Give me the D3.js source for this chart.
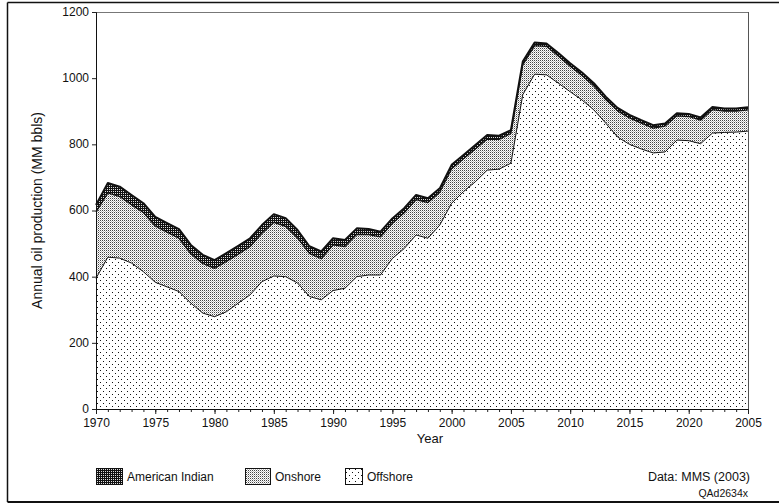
<!DOCTYPE html>
<html>
<head>
<meta charset="utf-8">
<script src="https://cdn.jsdelivr.net/npm/d3@7"></script>
<style>
  html, body { margin: 0; padding: 0; background: #fff; }
  svg { display: block; }
  text { font-family: "Liberation Sans", Arial, sans-serif; fill: #111; }
</style>
</head>
<body>
<svg id="chart" width="779" height="504"></svg>
<script>
// ---- data (MM bbls) ----
const years = [1970,1971,1972,1973,1974,1975,1976,1977,1978,1979,
  1980,1981,1982,1983,1984,1985,1986,1987,1988,1989,
  1990,1991,1992,1993,1994,1995,1996,1997,1998,1999,
  2000,2001,2002,2003,2004,2005,2006,2007,2008,2009,
  2010,2011,2012,2013,2014,2015,2016,2017,2018,2019,
  2020,2021,2022,2023,2024,2025];
const offshore = [395,459,456,441,415,383,369,355,320,290,
  279,294,320,345,385,402,400,381,340,330,
  358,365,400,405,405,455,485,526,516,556,
  622,657,687,722,725,743,950,1012,1010,985,
  959,934,904,864,822,800,786,774,777,813,
  811,802,834,836,837,840];
const onshore = [200,194,186,176,179,170,165,161,149,150,
  146,152,148,146,146,162,152,136,130,124,
  138,126,128,122,115,106,108,107,108,99,
  104,99,99,94,90,90,90,86,86,82,
  77,74,72,71,79,80,78,75,78,73,
  73,71,71,64,63,64];
const americanIndian = [22,30,30,30,28,28,28,28,27,26,
  25,25,25,25,25,25,25,24,22,22,
  20,20,18,17,16,15,14,14,13,12,
  12,12,12,12,11,10,10,10,9,9,
  9,9,9,9,9,9,9,9,8,8,
  8,8,8,8,8,8];
const seriesKeys = ["offshore", "onshore", "americanIndian"];
const legendLabels = ["American Indian", "Onshore", "Offshore"];
const xTickYears = [1970,1975,1980,1985,1990,1995,2000,2005,2010,2015,2020,2025];
const xTickLabels = ["1970","1975","1980","1985","1990","1995","2000","2005","2010","2015","2020","2005"];
const yTicks = [0,200,400,600,800,1000,1200];

// ---- build table ----
const table = years.map((y, i) => ({
  year: y, offshore: offshore[i], onshore: onshore[i], americanIndian: americanIndian[i]
}));

const svg = d3.select("#chart");
const margin = {left: 96, right: 31, top: 12, bottom: 95};
const W = 779, H = 504;
const x = d3.scaleLinear().domain([1970, 2025]).range([margin.left, W - margin.right]);
const y = d3.scaleLinear().domain([0, 1200]).range([H - margin.bottom, margin.top]);

// ---- patterns ----
const defs = svg.append("defs");
const pOff = defs.append("pattern").attr("id", "pOff").attr("patternUnits", "userSpaceOnUse")
  .attr("width", 6).attr("height", 6);
pOff.append("rect").attr("width", 6).attr("height", 6).attr("fill", "#fff");
pOff.append("rect").attr("x", 1).attr("y", 1).attr("width", 1).attr("height", 1).attr("fill", "#111");
pOff.append("rect").attr("x", 4).attr("y", 4).attr("width", 1).attr("height", 1).attr("fill", "#111");

const pOn = defs.append("pattern").attr("id", "pOn").attr("patternUnits", "userSpaceOnUse")
  .attr("width", 2).attr("height", 2);
pOn.append("rect").attr("width", 2).attr("height", 2).attr("fill", "#fff");
pOn.append("rect").attr("x", 0).attr("y", 0).attr("width", 1).attr("height", 1).attr("fill", "#444");
pOn.append("rect").attr("x", 1).attr("y", 1).attr("width", 1).attr("height", 1).attr("fill", "#bbb");

const pAI = defs.append("pattern").attr("id", "pAI").attr("patternUnits", "userSpaceOnUse")
  .attr("width", 2).attr("height", 2);
pAI.append("rect").attr("width", 2).attr("height", 2).attr("fill", "#111");
pAI.append("rect").attr("x", 1).attr("y", 1).attr("width", 1).attr("height", 1).attr("fill", "#ddd");

const fills = {offshore: "url(#pOff)", onshore: "url(#pOn)", americanIndian: "url(#pAI)"};
const edgeW = {offshore: 1, onshore: 1.2, americanIndian: 2};

// ---- outer frame ----
const frame = svg.append("g").attr("stroke", "#111").attr("fill", "none");
frame.append("line").attr("x1", 7.5).attr("y1", 2.5).attr("x2", 779).attr("y2", 2.5).attr("stroke-width", 1.5);
frame.append("line").attr("x1", 7.5).attr("y1", 2.5).attr("x2", 7.5).attr("y2", 502).attr("stroke-width", 1.5);
frame.append("line").attr("x1", 7.5).attr("y1", 502).attr("x2", 779).attr("y2", 502).attr("stroke-width", 2);

// ---- stacked areas ----
const stack = d3.stack().keys(seriesKeys);
const layers = stack(table);
const area = d3.area().x(d => x(d.data.year)).y0(d => y(d[0])).y1(d => y(d[1]));
const topLine = d3.line().x(d => x(d.data.year)).y(d => y(d[1]));

svg.append("g").selectAll("path.area").data(layers).join("path")
  .attr("class", "area")
  .attr("d", area)
  .attr("fill", d => fills[d.key])
  .attr("stroke", "none");

svg.append("g").selectAll("path.edge").data(layers).join("path")
  .attr("class", "edge")
  .attr("d", topLine)
  .attr("fill", "none")
  .attr("stroke", "#111")
  .attr("stroke-width", d => edgeW[d.key])
  .attr("stroke-linejoin", "round");

// ---- plot frame (top and right) ----
svg.append("line").attr("x1", x(1970)).attr("x2", x(2025)).attr("y1", y(1200) + 0.5).attr("y2", y(1200) + 0.5)
  .attr("stroke", "#777").attr("stroke-width", 1);
svg.append("line").attr("x1", x(2025) + 0.5).attr("x2", x(2025) + 0.5).attr("y1", y(1200)).attr("y2", y(0))
  .attr("stroke", "#555").attr("stroke-width", 1);

// ---- axes ----
const xAxisMinor = d3.axisBottom(x).tickValues(years).tickSize(3).tickFormat("");
const gxm = svg.append("g").attr("transform", `translate(0,${y(0)})`).call(xAxisMinor);
gxm.select(".domain").remove();
gxm.selectAll("line").attr("stroke", "#222");

const xAxis = d3.axisBottom(x).tickValues(xTickYears).tickSize(5).tickPadding(4)
  .tickFormat((d, i) => xTickLabels[i]);
const gx = svg.append("g").attr("transform", `translate(0,${y(0)})`).call(xAxis);
gx.select(".domain").attr("stroke", "#111").attr("d", `M${x(1970)},0.5H${x(2025)}`);
gx.selectAll("line").attr("stroke", "#222");
gx.selectAll("text").style("font-size", "12px").attr("fill", "#111");

const yAxis = d3.axisLeft(y).tickValues(yTicks).tickSize(4).tickPadding(3).tickFormat(d3.format("d"));
const gy = svg.append("g").attr("transform", `translate(${x(1970)},0)`).call(yAxis);
gy.select(".domain").attr("stroke", "#111");
gy.selectAll("line").attr("stroke", "#222");
gy.selectAll("text").style("font-size", "12px").attr("fill", "#111").attr("dy", "0.28em");

// ---- axis titles ----
svg.append("text").attr("x", 430).attr("y", 443).attr("text-anchor", "middle")
  .style("font-size", "13px").text("Year");
svg.append("text").attr("transform", `translate(42,${(y(0) + y(1200)) / 2}) rotate(-90)`)
  .attr("text-anchor", "middle").style("font-size", "14px")
  .text("Annual oil production (MM bbls)");

// ---- legend ----
const legendItems = [
  {label: legendLabels[0], key: "americanIndian", sx: 96, sw: 26},
  {label: legendLabels[1], key: "onshore", sx: 245, sw: 25},
  {label: legendLabels[2], key: "offshore", sx: 345, sw: 17}
];
const lg = svg.append("g");
legendItems.forEach(it => {
  lg.append("rect").attr("x", it.sx + 0.5).attr("y", 468.5).attr("width", it.sw).attr("height", 16)
    .attr("fill", fills[it.key]).attr("stroke", "#111").attr("stroke-width", 1);
  lg.append("text").attr("x", it.sx + it.sw + 5).attr("y", 481).style("font-size", "12px").text(it.label);
});

svg.append("text").attr("x", 750).attr("y", 481).attr("text-anchor", "end")
  .style("font-size", "12.5px").text("Data: MMS (2003)");
svg.append("text").attr("x", 748).attr("y", 497).attr("text-anchor", "end")
  .style("font-size", "10.5px").text("QAd2634x");
</script>
</body>
</html>
